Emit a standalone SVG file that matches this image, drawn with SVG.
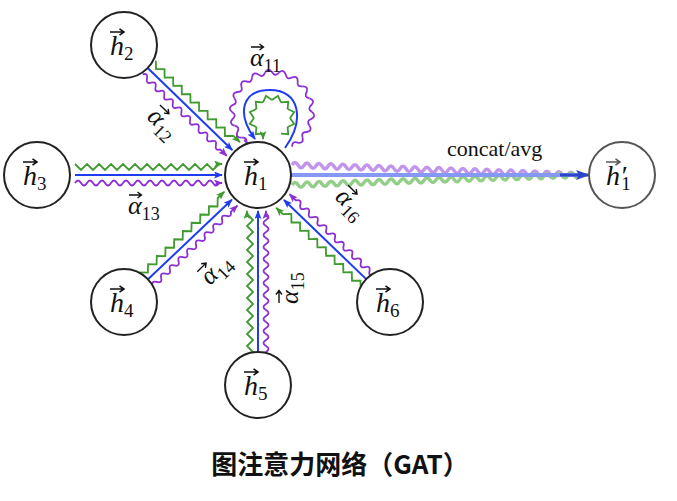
<svg xmlns="http://www.w3.org/2000/svg" width="677" height="501" viewBox="0 0 677 501">
<style>
.nd{fill:#fff;stroke:#222;stroke-width:2}
.bl{stroke:#1f3df0;stroke-width:2;fill:none}
.gr{stroke:#3f9b2f;stroke-width:1.8;fill:none}
.pu{stroke:#8e2fd6;stroke-width:1.8;fill:none}
.m{font-family:"Liberation Serif","DejaVu Serif",serif;font-style:italic;fill:#111}
.s{font-style:normal}
.va{stroke:#111;stroke-width:1.4;fill:none}
</style>
<defs>
<marker id="ab" markerUnits="userSpaceOnUse" markerWidth="9" markerHeight="7" refX="8" refY="3.5" orient="auto"><path d="M0,0L9,3.5L0,7L2,3.5z" fill="#1f3df0"/></marker>
<marker id="ag" markerUnits="userSpaceOnUse" markerWidth="9" markerHeight="7" refX="8" refY="3.5" orient="auto"><path d="M0,0L9,3.5L0,7L2,3.5z" fill="#3f9b2f"/></marker>
<marker id="ap" markerUnits="userSpaceOnUse" markerWidth="9" markerHeight="7" refX="8" refY="3.5" orient="auto"><path d="M0,0L9,3.5L0,7L2,3.5z" fill="#8e2fd6"/></marker>
<marker id="ad" markerUnits="userSpaceOnUse" markerWidth="14" markerHeight="10" refX="12" refY="5" orient="auto"><path d="M0,0L14,5L0,10L3,5z" fill="#2a45c8"/></marker>
<path id="va" class="va" d="M0,0h12M8.5,-3L12.5,0L8.5,3"/>
<path id="vh" d="M0,0h13M9.5,-3.2L14,0L9.5,3.2" stroke="#111" stroke-width="1.6" fill="none"/>
<g id="e120">
<line x1="-120" y1="0" x2="-3" y2="0" class="bl" marker-end="url(#ab)"/>
<path class="gr" marker-end="url(#ag)" d="M-120,-11l6,6l6,-6l6,6l6,-6l6,6l6,-6l6,6l6,-6l6,6l6,-6l6,6l6,-6l6,6l6,-6l6,6l6,-6l6,6l6,-6h9"/>
<path class="pu" marker-end="url(#ap)" d="M-120,8q3,-5 6,0t6,0t6,0t6,0t6,0t6,0t6,0t6,0t6,0t6,0t6,0t6,0t6,0t6,0t6,0t6,0t6,0t6,0h9"/>
</g>
<g id="e150">
<line x1="-150" y1="0" x2="-3" y2="0" class="bl" marker-end="url(#ab)"/>
<path class="gr" marker-end="url(#ag)" d="M-150,-11l6,6l6,-6l6,6l6,-6l6,6l6,-6l6,6l6,-6l6,6l6,-6l6,6l6,-6l6,6l6,-6l6,6l6,-6l6,6l6,-6l6,6l6,-6l6,6l6,-6l6,6l6,-6h3"/>
<path class="pu" marker-end="url(#ap)" d="M-150,8q3,-5 6,0t6,0t6,0t6,0t6,0t6,0t6,0t6,0t6,0t6,0t6,0t6,0t6,0t6,0t6,0t6,0t6,0t6,0t6,0t6,0t6,0t6,0t6,0t6,0h3"/>
</g>
<path id="pw" class="pu" d="M40,0Q44.8,3.9 39.39,6.95Q33.8,8.9 37.59,13.68"/>
<path id="gz" class="gr" d="M18,0L22.2,5.95L15.59,9"/>
</defs>
<g id="connectors">
<use href="#e120" transform="translate(234.4,152.1) rotate(44.1)"/>
<use href="#e150" transform="translate(225,175)"/>
<use href="#e120" transform="translate(234,197.7) rotate(-43.5)"/>
<use href="#e150" transform="translate(258,208) rotate(-90)"/>
<use href="#e120" transform="translate(281.8,197.9) rotate(-136.1)"/>
<g id="selfloop">
<g transform="translate(272,112)">
<use href="#pw" transform="rotate(120)"/><use href="#pw" transform="rotate(140)"/><use href="#pw" transform="rotate(160)"/><use href="#pw" transform="rotate(180)"/><use href="#pw" transform="rotate(200)"/><use href="#pw" transform="rotate(220)"/><use href="#pw" transform="rotate(240)"/><use href="#pw" transform="rotate(260)"/><use href="#pw" transform="rotate(280)"/><use href="#pw" transform="rotate(300)"/><use href="#pw" transform="rotate(320)"/><use href="#pw" transform="rotate(340)"/><use href="#pw" transform="rotate(360)"/><use href="#pw" transform="rotate(380)"/><use href="#pw" transform="rotate(400)"/>
</g>
<path d="M252,146.6L244,140" class="pu" marker-start="url(#ap)"/>
<g transform="translate(272,118)">
<use href="#gz" transform="rotate(120)"/><use href="#gz" transform="rotate(150)"/><use href="#gz" transform="rotate(180)"/><use href="#gz" transform="rotate(210)"/><use href="#gz" transform="rotate(240)"/><use href="#gz" transform="rotate(270)"/><use href="#gz" transform="rotate(300)"/><use href="#gz" transform="rotate(330)"/><use href="#gz" transform="rotate(360)"/><use href="#gz" transform="rotate(390)"/>
</g>
<path d="M263,133.6L263,139" class="gr" marker-end="url(#ag)"/>
<path d="M285,148C305,120 300,90 270,90C242,90 236,113 255,139" class="bl" marker-end="url(#ab)"/>
</g>
<g id="output" opacity="0.6">
<path stroke="#9b4fe0" stroke-width="3.5" fill="none" d="M292,165q3,-5 6,0.21t6,0.21t6,0.21t6,0.21t6,0.21t6,0.21t6,0.21t6,0.21t6,0.21t6,0.21t6,0.21t6,0.21t6,0.21t6,0.21t6,0.21t6,0.21t6,0.21t6,0.21t6,0.21t6,0.21t6,0.21t6,0.21t6,0.21t6,0.21t6,0.21t6,0.21t6,0.21t6,0.21t6,0.21t6,0.21t6,0.21t6,0.21t6,0.21t6,0.21t6,0.21t6,0.21t6,0.21t6,0.21t6,0.21t6,0.21t6,0.21t6,0.21t6,0.21t6,0.21t6,0.21t6,0.21t6,0.21t6,0.21"/>
<path stroke="#4caf3a" stroke-width="3.5" fill="none" d="M292,185q3,-5 6,-0.21t6,-0.21t6,-0.21t6,-0.21t6,-0.21t6,-0.21t6,-0.21t6,-0.21t6,-0.21t6,-0.21t6,-0.21t6,-0.21t6,-0.21t6,-0.21t6,-0.21t6,-0.21t6,-0.21t6,-0.21t6,-0.21t6,-0.21t6,-0.21t6,-0.21t6,-0.21t6,-0.21t6,-0.21t6,-0.21t6,-0.21t6,-0.21t6,-0.21t6,-0.21t6,-0.21t6,-0.21t6,-0.21t6,-0.21t6,-0.21t6,-0.21t6,-0.21t6,-0.21t6,-0.21t6,-0.21t6,-0.21t6,-0.21t6,-0.21t6,-0.21t6,-0.21t6,-0.21t6,-0.21t6,-0.21"/>
<line x1="291" y1="175" x2="580" y2="175" stroke="#3355ee" stroke-width="4"/>
</g>
<line x1="560" y1="175" x2="588" y2="175" stroke="#2a45c8" stroke-width="3" marker-end="url(#ad)"/>
</g>
<g id="labels" class="m" font-size="26">
<g transform="translate(250,66)"><text>α<tspan class="s" font-size="18" dy="6">11</tspan></text><use href="#va" x="1" y="-19"/></g>
<g transform="translate(146,118) rotate(44)"><text>α<tspan class="s" font-size="18" dy="6">12</tspan></text><use href="#va" x="1" y="-19"/></g>
<g transform="translate(128,214)"><text>α<tspan class="s" font-size="18" dy="6">13</tspan></text><use href="#va" x="1" y="-19"/></g>
<g transform="translate(210,286) rotate(-45)"><text>α<tspan class="s" font-size="18" dy="6">14</tspan></text><use href="#va" x="1" y="-19"/></g>
<g transform="translate(298,304) rotate(-90)"><text>α<tspan class="s" font-size="18" dy="6">15</tspan></text><use href="#va" x="1" y="-19"/></g>
<g transform="translate(334,198) rotate(45)"><text>α<tspan class="s" font-size="18" dy="6">16</tspan></text><use href="#va" x="1" y="-19"/></g>
<text class="s" x="447" y="156" font-size="22">concat/avg</text>
</g>
<g id="h2"><circle class="nd" cx="124" cy="45" r="33"/><text class="m" x="110" y="55" font-size="28">h<tspan class="s" font-size="19" dy="5">2</tspan></text><use href="#vh" x="110" y="32"/></g>
<g id="h3"><circle class="nd" cx="37" cy="175" r="33"/><text class="m" x="23" y="185" font-size="28">h<tspan class="s" font-size="19" dy="5">3</tspan></text><use href="#vh" x="23" y="162"/></g>
<g id="h4"><circle class="nd" cx="124" cy="302" r="33"/><text class="m" x="110" y="312" font-size="28">h<tspan class="s" font-size="19" dy="5">4</tspan></text><use href="#vh" x="110" y="289"/></g>
<g id="h5"><circle class="nd" cx="258" cy="385" r="33"/><text class="m" x="244" y="395" font-size="28">h<tspan class="s" font-size="19" dy="5">5</tspan></text><use href="#vh" x="244" y="372"/></g>
<g id="h6"><circle class="nd" cx="390" cy="302" r="33"/><text class="m" x="376" y="312" font-size="28">h<tspan class="s" font-size="19" dy="5">6</tspan></text><use href="#vh" x="376" y="289"/></g>
<g id="h1"><circle class="nd" cx="258" cy="175" r="33"/><text class="m" x="244" y="185" font-size="28">h<tspan class="s" font-size="19" dy="5">1</tspan></text><use href="#vh" x="244" y="162"/></g>
<g id="h1p"><circle cx="622" cy="175" r="33" fill="#fff" stroke="#555" stroke-width="2"/><text class="m" x="606" y="185" font-size="28" fill="#555">h′<tspan class="s" font-size="19" dy="5" dx="-5">1</tspan></text><use href="#vh" x="606" y="162" opacity="0.7"/></g>
<text x="340" y="474" text-anchor="middle" font-family="'Noto Sans CJK SC','Noto Sans',sans-serif" font-weight="bold" font-size="26" fill="#111">图注意力网络（GAT）</text>
</svg>
